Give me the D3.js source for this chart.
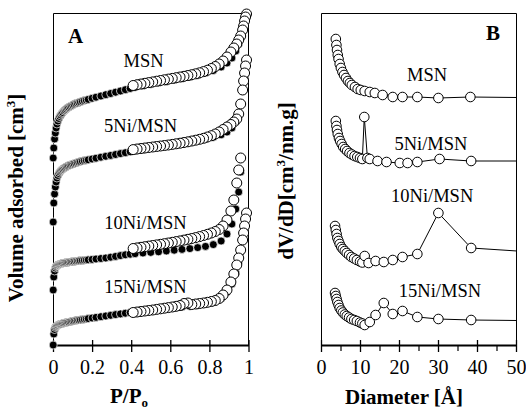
<!DOCTYPE html>
<html>
<head>
<meta charset="utf-8">
<title>Isotherms and pore size distribution</title>
<script src="https://cdn.jsdelivr.net/npm/d3@7"></script>
<style>
body { margin: 0; background: #fff; }
svg text { font-family: "Liberation Serif", "Times New Roman", serif; fill: #000; }
</style>
</head>
<body>
<svg id="chart" width="526" height="409"></svg>
<script>
// ---- panel A : isotherms (volume in arbitrary, offset units) ----
var samples = ["MSN", "5Ni/MSN", "10Ni/MSN", "15Ni/MSN"];

var adsP = [0.001,0.004,0.008,0.012,0.016,0.02,0.025,0.03,0.035,0.04,0.045,0.05,0.056,0.062,0.068,0.074,0.08,0.087,0.094,0.101,0.108,0.116,0.124,0.132,0.14,0.15,0.16,0.17,0.18,0.2,0.22,0.245,0.27,0.295,0.32,0.345,0.37,0.395,0.42,0.46,0.5,0.54,0.58,0.62,0.66,0.7,0.74,0.78,0.82,0.86,0.89,0.915,0.935,0.95,0.96,0.97,0.98,0.99];
var msnAds = [187,197,206,212,217,221,224,226.5,228.5,230,231.5,232.5,234,235,236,237,237.7,238.5,239.3,240,240.7,241.4,242,242.6,243.2,243.8,244.4,245,245.6,246.7,247.8,249,250.3,251.5,252.8,254,255.3,256.5,257.7,259.3,260.8,262.2,263.6,265,266.4,268,269.8,272,274.5,278,282,287,294,301,307,314,322,330];
var ni5Ads = [123,142,151,158,163,167,169.5,171.5,173,174.2,175.2,176,176.8,177.5,178.2,178.8,179.4,180,180.6,181.1,181.6,182.1,182.6,183,183.4,183.9,184.4,184.8,185.2,186,186.8,187.8,188.7,189.6,190.5,191.4,192.3,193.2,194.2,195.6,197,198.3,199.6,200.8,202,203.2,204.5,206,207.8,210.2,213,217,223,232,242,254,268,283];
var ni10Ads = [55,68,74,77,78.5,79.4,80,80.4,80.8,81.1,81.4,81.7,82,82.2,82.4,82.6,82.8,83,83.2,83.4,83.6,83.8,84,84.2,84.4,84.6,84.8,85,85.2,85.6,86,86.5,87,87.8,88.6,89.4,90.2,90.8,91.3,92,92.6,93.2,94,94.8,95.6,96.4,97.4,98.6,100.4,104,111,121,136,153,173,null,null,null];
var ni15Ads = [0,11,15.5,17.5,18.5,19.2,19.8,20.3,20.7,21,21.3,21.6,21.9,22.2,22.5,22.8,23,23.3,23.6,23.9,24.1,24.4,24.7,24.9,25.2,25.5,25.8,26.1,26.4,27,27.6,28.3,29,29.7,30.4,31.1,31.8,32.4,33,34,34.8,35.6,36.4,37.2,38,38.8,39.8,41,42.8,46.5,53,61,72,83,93,105,117,129];

var desP = [0.99,0.985,0.98,0.975,0.97,0.96,0.95,0.94,0.925,0.91,0.89,0.87,0.85,0.83,0.81,0.79,0.77,0.75,0.73,0.71,0.69,0.67,0.65,0.63,0.61,0.59,0.57,0.55,0.53,0.51,0.49,0.47,0.45,0.43,0.41];
var msnDes = [331,328,324,319,315,309,305,301,297,293,288,284,281,278.5,276.5,274.8,273.4,272.2,271.2,270.3,269.5,268.7,268,267.3,266.6,265.9,265.2,264.5,263.8,263.1,262.4,261.7,261,260.3,259.5];
var ni5Des = [285,279,272,264,255,241,231,226,223,220.5,218,215.5,213,211,209.3,208,206.7,205.7,204.8,204,203.2,202.5,201.8,201.2,200.6,200,199.5,199,198.5,198,197.5,197,196.5,196,195.4];
var ni10Des = [null,null,null,null,null,187,175,162,145,134,125,119,115.5,113.5,112,110.7,109.5,108.4,107.4,106.5,105.7,104.9,104.1,103.4,102.7,102,101.3,100.7,100.1,99.5,98.9,98.3,97.7,97.1,96.5];
var ni15Des = [132,126,119,112,105,95,87,80,71,63,55,50,46.5,44.5,43.5,42.7,42,41.5,41,40.5,42,41.5,39.5,38.7,38,37.4,36.8,36.2,35.6,35,34.5,34,33.5,33,32.5];

// ---- panel B : pore size distribution (offset units) ----
var msnD = [3.8,3.95,4.1,4.3,4.5,4.8,5.1,5.5,5.9,6.4,6.9,7.4,7.9,8.7,9.4,10.2,11.2,12.5,13.8,15.8,18.4,20.9,24.7,30.1,38.3,62];
var msnPsd = [306,300,295,290,286,281,277,273,270,267,264,262,260,258,256,255,254,253,252,250,248,248,248,247,248,247];
var ni5D = [3.8,3.95,4.1,4.3,4.6,4.9,5.3,5.7,6.2,6.7,7.3,7.9,8.6,9.3,10.0,10.6,11.1,11.9,12.5,14.5,16.8,20.2,22.2,24.7,30.4,38.5,62];
var ni5Psd = [224,219,215,211,207,204,201,198,196,194,192,190.5,189,188,187,186,228,187,186,184,183,182,182,183,186,184,184];
var ni10D = [3.6,3.8,4.0,4.2,4.5,4.8,5.2,5.6,6.1,6.6,7.2,7.8,8.5,9.2,10.0,10.6,11.2,12.2,14.0,16.1,18.4,20.9,24.7,30.1,38.5,62];
var ni10Psd = [119,115,111,107,104,101,98,96,94,92,90,88,86.5,85,83.5,82.5,89,82,84,83,85,88,91,132,97,91];
var ni15D = [3.6,3.8,4.0,4.2,4.5,4.8,5.2,5.6,6.1,6.6,7.2,7.8,8.5,9.2,10.0,10.6,11.2,12.5,14.0,16.1,18.4,20.9,24.7,30.1,38.5,62];
var ni15Psd = [52,49,46,43,40,37,34.5,32.5,30.5,29,27.5,26,25,24,22.5,21.5,20,23,30,42,31,34,28,26,25,24];

var ticksA = [0, 0.2, 0.4, 0.6, 0.8, 1];
var ticksB = [0, 10, 20, 30, 40, 50];
var minorB = [5, 15, 25, 35, 45];

var svg = d3.select("#chart");
var xA = d3.scaleLinear().domain([0, 1]).range([53, 248.5]);
var yA = d3.scaleLinear().domain([0, 332]).range([345, 13]);
var xB = d3.scaleLinear().domain([0, 50]).range([321, 516]);
var yB = d3.scaleLinear().domain([0, 332]).range([345, 13]);

function pairs(xs, ys) {
  return xs.map(function(x, i) { return {x: x, y: ys[i]}; }).filter(function(d) { return d.y != null; });
}

// frames (left, top, right)
function frame(x0, x1) {
  svg.append("path")
    .attr("d", "M" + x0 + ",345V13.5H" + x1 + "V345")
    .attr("fill", "none").attr("stroke", "#000").attr("stroke-width", 1);
}
frame(53.5, 248.5);
frame(321.5, 516.5);

function bottomAxis(scale, vals, fmt) {
  var g = svg.append("g").attr("transform", "translate(0,345)")
    .call(d3.axisBottom(scale).tickValues(vals).tickFormat(fmt).tickSize(7).tickSizeOuter(0));
  g.select(".domain").attr("stroke-width", 2);
  g.selectAll(".tick line").attr("y1", -5).attr("stroke-width", 1.3);
  g.selectAll(".tick text").attr("y", 29).attr("dy", 0)
    .style("font-size", "20px").style("font-family", "Liberation Serif");
  return g;
}
bottomAxis(xA, ticksA, d3.format("~g"));
bottomAxis(xB, ticksB, d3.format("d"));
svg.append("g").attr("transform", "translate(0,345)")
  .call(d3.axisBottom(xB).tickValues(minorB).tickFormat("").tickSize(6).tickSizeOuter(0))
  .call(function(g) { g.select(".domain").remove(); g.selectAll("line").attr("stroke-width", 1.2); });

// isotherm markers
var isoSets = [[msnAds, msnDes], [ni5Ads, ni5Des], [ni10Ads, ni10Des], [ni15Ads, ni15Des]];
isoSets.forEach(function(s) {
  svg.append("g").selectAll("circle").data(pairs(adsP, s[0])).enter().append("circle")
    .attr("cx", function(d) { return xA(d.x); })
    .attr("cy", function(d) { return yA(d.y); })
    .attr("r", 4).attr("fill", "#000").attr("stroke", "#fff").attr("stroke-width", 0.7);
  svg.append("g").selectAll("circle").data(pairs(desP, s[1])).enter().append("circle")
    .attr("cx", function(d) { return xA(d.x); })
    .attr("cy", function(d) { return yA(d.y); })
    .attr("r", 5).attr("fill", "#fff").attr("stroke", "#000").attr("stroke-width", 1);
});

// psd lines + markers
svg.append("clipPath").attr("id", "clipB").append("rect")
  .attr("x", 321).attr("y", 13).attr("width", 195).attr("height", 332);
var psdSets = [[msnD, msnPsd], [ni5D, ni5Psd], [ni10D, ni10Psd], [ni15D, ni15Psd]];
var line = d3.line().x(function(d) { return xB(d.x); }).y(function(d) { return yB(d.y); });
psdSets.forEach(function(s) {
  var pts = pairs(s[0], s[1]);
  svg.append("path").datum(pts).attr("d", line).attr("clip-path", "url(#clipB)")
    .attr("fill", "none").attr("stroke", "#000").attr("stroke-width", 1);
  svg.append("g").attr("clip-path", "url(#clipB)").selectAll("circle").data(pts).enter().append("circle")
    .attr("cx", function(d) { return xB(d.x); })
    .attr("cy", function(d) { return yB(d.y); })
    .attr("r", 4.8).attr("fill", "#fff").attr("stroke", "#000").attr("stroke-width", 1);
});

// series labels
var labA = [[0.463, 278], [0.448, 213], [0.473, 116], [0.473, 52]];
var labB = [[27.2, 264], [28.2, 195], [28.5, 143], [30.5, 48]];
samples.forEach(function(name, i) {
  svg.append("text").attr("x", xA(labA[i][0])).attr("y", yA(labA[i][1]))
    .attr("text-anchor", "middle").style("font-size", "18.5px").text(name);
  svg.append("text").attr("x", xB(labB[i][0])).attr("y", yB(labB[i][1]))
    .attr("text-anchor", "middle").style("font-size", "18.5px").text(name);
});

svg.append("text").attr("x", 68).attr("y", 43).style("font-size", "21px").style("font-weight", "bold").text("A");
svg.append("text").attr("x", 500).attr("y", 40).attr("text-anchor", "end").style("font-size", "21px").style("font-weight", "bold").text("B");

// axis titles
var tA = svg.append("text").attr("x", 129).attr("y", 403).attr("text-anchor", "middle")
  .style("font-size", "21px").style("font-weight", "bold");
tA.append("tspan").text("P/P");
tA.append("tspan").attr("dy", 4).style("font-size", "13px").text("o");

svg.append("text").attr("x", 404).attr("y", 404).attr("text-anchor", "middle")
  .style("font-size", "21px").style("font-weight", "bold").text("Diameter [Å]");

var yt1 = svg.append("text").attr("transform", "translate(23,198) rotate(-90)").attr("text-anchor", "middle")
  .style("font-size", "21px").style("font-weight", "bold");
yt1.append("tspan").text("Volume adsorbed [cm");
yt1.append("tspan").attr("dy", -8).style("font-size", "13px").text("3");
yt1.append("tspan").attr("dy", 8).text("]");

var yt2 = svg.append("text").attr("transform", "translate(293,181) rotate(-90)").attr("text-anchor", "middle")
  .style("font-size", "21px").style("font-weight", "bold");
yt2.append("tspan").text("dV/dD[cm");
yt2.append("tspan").attr("dy", -8).style("font-size", "13px").text("3");
yt2.append("tspan").attr("dy", 8).text("/nm.g]");
</script>
</body>
</html>
